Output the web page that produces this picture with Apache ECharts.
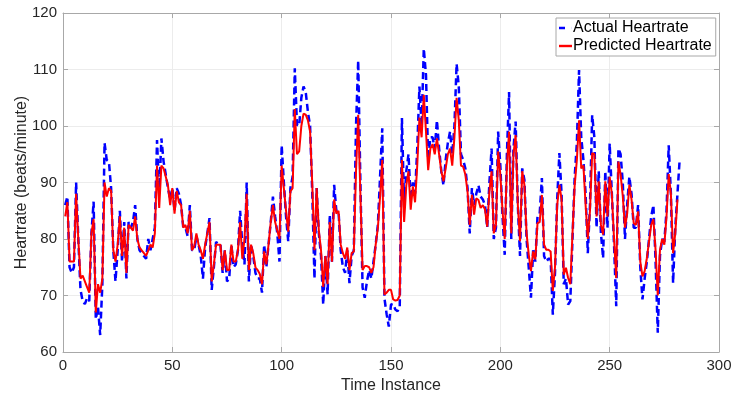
<!DOCTYPE html>
<html>
<head>
<meta charset="utf-8">
<script src="https://cdn.jsdelivr.net/npm/echarts@6/dist/echarts.min.js"></script>
<style>
  html, body { margin: 0; padding: 0; background: #fff; }
  #chart { width: 740px; height: 401px; }
</style>
</head>
<body>
<div id="chart"></div>
<script>
// values, one per time instance starting at 1
const actualHeartrate = [
  86, 87.5, 75, 74, 75, 90, 80, 71, 69, 68.5, 69.5, 69, 81, 86.6, 65.8, 68, 63, 72, 97, 94,
  93.7, 89, 78, 72.5, 78, 85, 76, 83, 73, 83, 82, 83, 86, 80, 78, 77.5, 77, 76.5, 80, 78,
  80, 82, 97.5, 88, 97.8, 93.7, 91.4, 89, 87, 89, 85, 89, 88, 86, 82, 82, 80.5, 86, 78, 78,
  80.5, 79, 77, 73, 78.5, 81, 83.7, 71, 75, 79.5, 79, 79, 74, 78, 72.5, 73, 79, 75, 75.5, 78,
  85, 79, 75.5, 90, 72.5, 79, 77, 74, 73, 73, 70.5, 79, 75, 79, 83, 87.5, 84, 81, 76, 96.6,
  90, 84, 79.6, 89, 91, 110.2, 100.2, 100, 105, 107, 106, 102.5, 100, 88, 73, 89, 81, 77, 68.4, 77,
  70.2, 84.3, 76, 89.6, 85, 85, 78, 75, 74, 78, 72.2, 77, 78, 100, 111.6, 90, 71.4, 69.6, 72.5, 74.5,
  73, 76, 79, 82.5, 91, 99.6, 69.5, 66.7, 64.5, 68.4, 68.5, 67.5, 67.2, 68, 101.4, 86, 92, 95, 87, 90,
  88, 96, 107, 100, 113.7, 109, 94, 98, 98, 96, 101, 96, 92, 89.5, 94, 97, 99, 95, 100, 111,
  107, 95, 94, 92.5, 89, 81, 89, 86, 88, 89.5, 87.5, 87, 86, 82, 90, 96, 80, 82, 99, 93,
  84, 77.2, 95, 106, 80, 96, 100.8, 86, 77, 92.5, 90.5, 80, 74.9, 69.6, 78, 76, 84, 84.5, 90.8, 77,
  76, 76.5, 76.5, 66.6, 74, 87, 95.2, 88, 72, 73, 68.4, 69, 80, 91, 97, 109.9, 98, 94, 88, 77.5,
  86, 101.9, 98, 82, 92, 81, 76.6, 92, 82, 96.9, 88, 79, 68.1, 96, 95, 90, 80, 86, 91, 88,
  82, 82, 86, 75, 69.3, 73, 76, 80, 84, 86, 76, 63.4, 77, 80, 79.5, 85, 96.6, 88, 72.2, 82,
  88, 94
];
const predictedHeartrate = [
  84, 86.5, 76, 76, 76, 88, 80, 73, 73.5, 72.5, 71.5, 70.5, 81, 83.5, 67, 72, 70.5, 73, 90, 87.5,
  89, 88.5, 78, 76, 79, 84, 77, 82, 74, 82.5, 82, 81.5, 84, 80, 78.5, 78, 77.5, 77, 78, 79,
  78.5, 81, 93, 85.5, 93, 92.5, 91, 89.5, 86, 89, 84.5, 88.5, 86.5, 86, 82, 82.5, 81, 85, 78, 78.7,
  81, 79, 78, 76.5, 79, 81, 83, 72.5, 75.5, 79, 79, 79, 74.5, 78, 74.5, 74.5, 79, 76, 76, 78,
  83, 76.5, 80, 88, 74.5, 79, 77.5, 75, 74.5, 73.8, 72, 77.8, 75.5, 79, 83, 86, 83, 81.5, 80, 93,
  89, 85, 81.3, 88.4, 89, 103, 95, 95.5, 100, 102.2, 102, 101, 99, 89.6, 78, 89, 81.5, 78, 71.5, 77,
  72, 83, 76, 87, 84.5, 85, 79, 77.5, 76.5, 78.5, 74.5, 77.5, 77.8, 92, 102, 88, 74.5, 75.2, 75.2, 75,
  74, 75, 79, 82, 87.5, 94, 70.2, 70.5, 71, 71, 69.3, 69.1, 69.2, 70, 94, 83, 89.5, 92, 85.2, 89.3,
  86.5, 93, 101.5, 98, 105.5, 99, 92.2, 96, 96.8, 95, 97.8, 95, 92, 90.2, 92.5, 95, 96, 93, 98, 105,
  101, 93, 92.8, 91.4, 88.4, 82.5, 87.8, 84.3, 87.2, 86.9, 85.5, 86, 85.2, 82.2, 88.4, 92, 81, 82.5, 95.5, 91.4,
  85, 80, 93, 99, 81, 95, 98.4, 86, 79.6, 92, 89.6, 81, 77.2, 74.3, 77.8, 76.4, 82.8, 83, 87.8, 79,
  78.1, 78.1, 77.8, 70.8, 75, 86, 89.6, 87, 73.7, 74.9, 73.1, 72, 81, 89.5, 94, 101, 92.5, 93, 86, 80,
  85, 95.2, 95, 84, 90.2, 82.5, 80.8, 90.2, 84, 91, 88, 80, 73.1, 93.7, 91.4, 87.6, 82, 84.5, 89.6, 87,
  82.8, 82.5, 84.9, 76, 73.4, 74.3, 76.6, 79.6, 82.5, 83.5, 78, 70, 78, 80, 79, 84, 91.5, 88, 77.5, 81,
  87
];
const xTicks = { min: 0, max: 300, interval: 50 };
const yTicks = { min: 60, max: 120, interval: 10 };

const font = '"Liberation Sans", Arial, sans-serif';
const frame = '#a8a8a8';
const textColor = '#262626';

const toPairs = arr => arr.map((v, i) => [i + 1, v]);

const chart = echarts.init(document.getElementById('chart'), null, { renderer: 'canvas' });

const sideAxis = (pos, ticks) => ({
  type: 'value',
  position: pos,
  min: ticks.min, max: ticks.max, interval: ticks.interval,
  axisLine: { show: true, onZero: false, lineStyle: { color: frame, width: 1 } },
  axisTick: { show: true, inside: true, length: 5, lineStyle: { color: frame } },
  axisLabel: { show: false },
  splitLine: { show: false }
});

chart.setOption({
  animation: false,
  backgroundColor: '#ffffff',
  grid: { left: 63, right: 21, top: 13, bottom: 49 },
  legend: {
    orient: 'vertical',
    left: 556, top: 18,
    padding: [1, 4, 1, 3],
    itemGap: 0,
    itemWidth: 13,
    itemHeight: 2.4,
    borderColor: '#a8a8a8',
    borderWidth: 1,
    borderRadius: 0,
    backgroundColor: '#fff',
    textStyle: { fontFamily: font, fontSize: 16, color: '#000', padding: [0, 0, 0, -4], lineHeight: 18 },
    data: [
      { name: 'Actual Heartrate', icon: 'path://M0,0H6V2.4H0ZM12.9,0H13V2.4H12.9Z', itemStyle: { color: '#0000ff' } },
      { name: 'Predicted Heartrate', icon: 'path://M0,0H13V2.4H0Z', itemStyle: { color: '#ff0000' } }
    ]
  },
  xAxis: [
    {
      type: 'value',
      position: 'bottom',
      min: xTicks.min, max: xTicks.max, interval: xTicks.interval,
      name: 'Time Instance',
      nameLocation: 'middle',
      nameGap: 26,
      nameMoveOverlap: false,
      nameTextStyle: { fontFamily: font, fontSize: 16, color: textColor },
      axisLine: { show: true, onZero: false, lineStyle: { color: frame, width: 1 } },
      axisTick: { show: true, inside: true, length: 5, lineStyle: { color: frame } },
      axisLabel: { fontFamily: font, fontSize: 15, color: textColor, margin: 6 },
      splitLine: { show: true, lineStyle: { color: '#ececec', width: 1 } }
    },
    sideAxis('top', xTicks)
  ],
  yAxis: [
    {
      type: 'value',
      position: 'left',
      min: yTicks.min, max: yTicks.max, interval: yTicks.interval,
      name: 'Heartrate (beats/minute)',
      nameLocation: 'middle',
      nameGap: 33,
      nameMoveOverlap: false,
      nameTextStyle: { fontFamily: font, fontSize: 16, color: textColor },
      axisLine: { show: true, onZero: false, lineStyle: { color: frame, width: 1 } },
      axisTick: { show: true, inside: true, length: 5, lineStyle: { color: frame } },
      axisLabel: { fontFamily: font, fontSize: 15, color: textColor, margin: 6 },
      splitLine: { show: true, lineStyle: { color: '#ececec', width: 1 } }
    },
    sideAxis('right', yTicks)
  ],
  series: [
    {
      name: 'Actual Heartrate',
      type: 'line',
      data: toPairs(actualHeartrate),
      showSymbol: false,
      symbol: 'none',
      color: '#0000ff',
      lineStyle: { color: '#0000ff', width: 2.5, type: [7, 4] },
      z: 2
    },
    {
      name: 'Predicted Heartrate',
      type: 'line',
      data: toPairs(predictedHeartrate),
      showSymbol: false,
      symbol: 'none',
      color: '#ff0000',
      lineStyle: { color: '#ff0000', width: 2 },
      z: 3
    }
  ]
});
</script>
</body>
</html>
